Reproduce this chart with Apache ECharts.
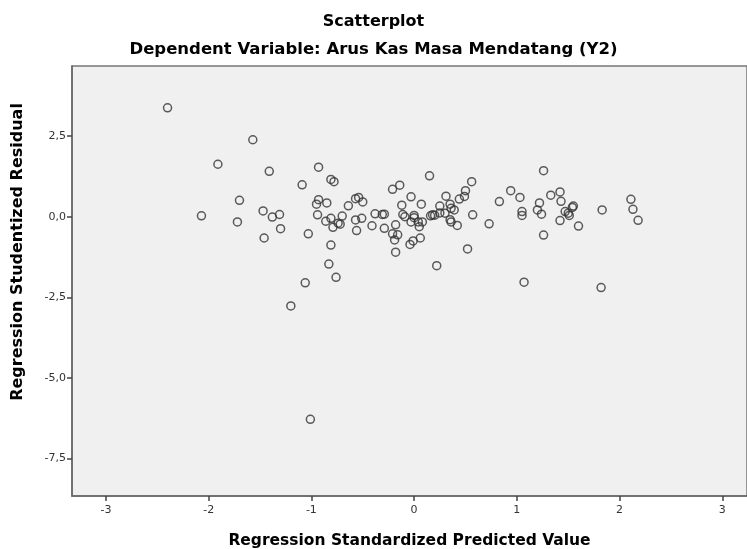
<!DOCTYPE html>
<html>
<head>
<meta charset="utf-8">
<script src="https://cdn.jsdelivr.net/npm/echarts@6/dist/echarts.min.js"></script>
<style>
    html, body { margin: 0; padding: 0; background: #fff; }
    #chart { width: 747px; height: 549px; }
</style>
</head>
<body>
<div id="chart"></div>
<script>
// regression standardized predicted value (x) and studentized residual (y)
const predicted = [
    -2.40, -1.57, -1.91, -1.41, -0.93, -0.81, -0.78, -1.09, -1.70, -0.93,
    -0.95, -0.85, -0.64, -0.57, -0.54, -0.50, -2.07, -1.47, -1.38, -1.31,
    -0.94, -1.72, -0.86, -0.81, -0.70, -0.79, -0.74, -0.72, -0.57, -0.51,
    -1.30, -1.03, -1.46, -0.81, -0.56, -0.83, -0.76, -1.06, -1.20, -1.01,
    -0.38, -0.41, 0.15, 0.56, -0.14, -0.21, 0.50, 0.49, 0.44, 0.31,
    -0.03, 0.94, 1.03, 0.83, -0.12, 0.07, 0.25, 0.35, 0.36, 0.39,
    -0.31, -0.29, -0.11, -0.09, 0.00, 0.00, 0.16, 0.18, 0.20, 0.30,
    0.25, 0.57, 0.73, -0.29, -0.18, -0.03, 0.04, 0.08, 0.05, 0.35,
    0.36, 0.42, -0.21, -0.16, -0.19, -0.04, -0.01, 0.06, -0.18, 0.52,
    0.22, 1.07, 1.26, 1.33, 1.42, 1.43, 1.22, 1.20, 1.24, 1.05,
    1.05, 1.47, 1.50, 1.51, 1.54, 1.55, 1.42, 1.60, 1.26, 1.83,
    2.11, 2.13, 2.18, 1.82
];
const residual = [
    3.38, 2.39, 1.63, 1.41, 1.54, 1.16, 1.09, 0.99, 0.51, 0.53,
    0.39, 0.43, 0.34, 0.56, 0.60, 0.46, 0.03, 0.18, -0.01, 0.07,
    0.06, -0.16, -0.14, -0.05, 0.02, -0.33, -0.20, -0.23, -0.10, -0.05,
    -0.37, -0.53, -0.66, -0.88, -0.43, -1.47, -1.88, -2.05, -2.77, -6.29,
    0.09, -0.28, 1.27, 1.09, 0.98, 0.85, 0.81, 0.63, 0.55, 0.64,
    0.62, 0.81, 0.60, 0.47, 0.36, 0.39, 0.33, 0.39, 0.26, 0.21,
    0.07, 0.08, 0.07, 0.00, 0.04, -0.03, 0.03, 0.06, 0.05, 0.11,
    0.12, 0.06, -0.22, -0.36, -0.25, -0.16, -0.16, -0.16, -0.31, -0.09,
    -0.16, -0.27, -0.53, -0.56, -0.72, -0.86, -0.75, -0.66, -1.10, -1.00,
    -1.52, -2.03, 1.43, 0.67, 0.77, 0.48, 0.43, 0.21, 0.08, 0.16,
    0.04, 0.16, 0.11, 0.04, 0.29, 0.33, -0.12, -0.29, -0.57, 0.21,
    0.54, 0.23, -0.11, -2.20
];
const xTicks = [-3, -2, -1, 0, 1, 2, 3];
const yTicks = [-7.5, -5, -2.5, 0, 2.5];

const points = predicted.map((x, i) => [x, residual[i]]);

const chart = echarts.init(document.getElementById('chart'));

const font = 'DejaVu Sans, Verdana, sans-serif';

chart.setOption({
    animation: false,
    title: [
        {
            text: 'Scatterplot',
            left: 'center',
            top: 9,
            textStyle: { fontFamily: font, fontSize: 16, fontWeight: 'bold', color: '#000' }
        },
        {
            text: 'Dependent Variable: Arus Kas Masa Mendatang (Y2)',
            left: 'center',
            top: 36,
            textStyle: { fontFamily: font, fontSize: 16.5, fontWeight: 'bold', color: '#000' }
        }
    ],
    grid: {
        left: 72,
        top: 66,
        right: 0,
        bottom: 53,
        outerBoundsMode: 'none',
        show: true,
        backgroundColor: '#f0f0f0',
        borderColor: '#777',
        borderWidth: 1.5
    },
    xAxis: {
        type: 'value',
        min: -3.33,
        max: 3.24,
        name: 'Regression Standardized Predicted Value',
        nameLocation: 'middle',
        nameGap: 37,
        nameTextStyle: { fontFamily: font, fontSize: 15.5, fontWeight: 'bold', color: '#000' },
        axisLine: { show: true, onZero: false, lineStyle: { color: '#666', width: 1.5 } },
        axisTick: { show: true, customValues: xTicks, length: 5, lineStyle: { color: '#444', width: 1.5 } },
        axisLabel: {
            customValues: xTicks,
            color: '#333',
            fontFamily: font,
            fontSize: 11,
            margin: 9
        },
        splitLine: { show: false }
    },
    yAxis: {
        type: 'value',
        min: -8.67,
        max: 4.68,
        axisLine: { show: true, onZero: false, lineStyle: { color: '#666', width: 1.5 } },
        axisTick: { show: true, customValues: yTicks, length: 5, lineStyle: { color: '#444', width: 1.5 } },
        axisLabel: {
            customValues: yTicks,
            color: '#333',
            fontFamily: font,
            fontSize: 11,
            margin: 6,
            formatter: v => v.toFixed(1).replace('.', ',')
        },
        splitLine: { show: false }
    },
    graphic: [
        {
            type: 'text',
            x: 18,
            y: 252,
            rotation: Math.PI / 2,
            style: {
                text: 'Regression Studentized Residual',
                fontFamily: font,
                fontSize: 16,
                fontWeight: 'bold',
                fill: '#000',
                align: 'center',
                verticalAlign: 'middle'
            }
        }
    ],
    series: [
        {
            type: 'scatter',
            data: points,
            symbol: 'circle',
            symbolSize: 8,
            itemStyle: {
                color: 'rgba(0,0,0,0)',
                borderColor: '#333',
                borderWidth: 1.5
            }
        }
    ]
});
</script>
</body>
</html>
